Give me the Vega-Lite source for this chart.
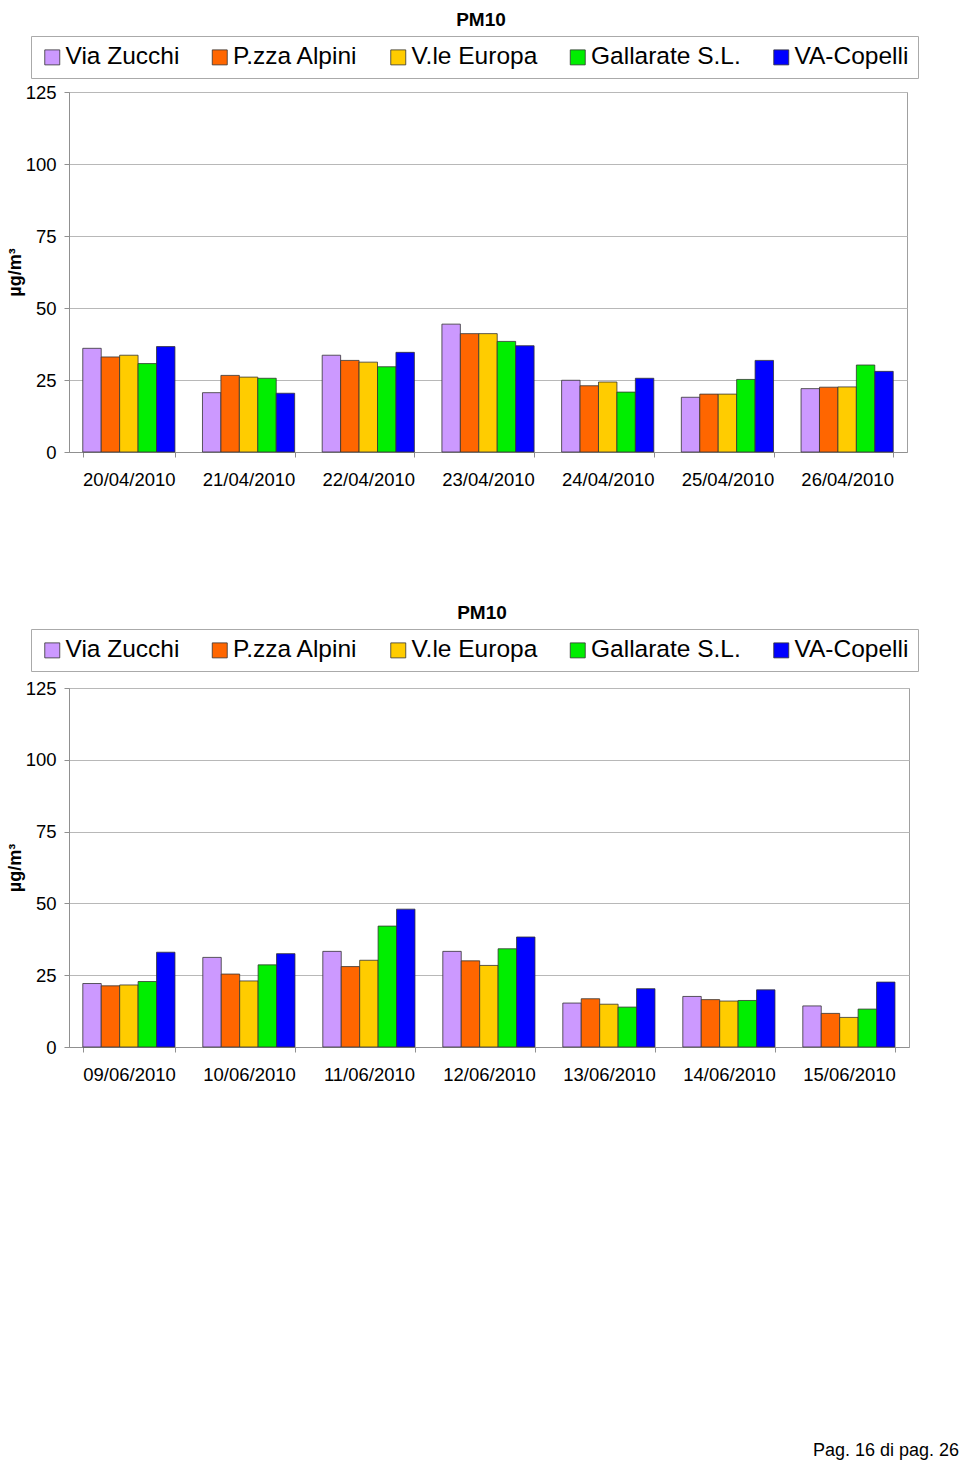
{
  "$schema": "https://vega.github.io/schema/vega-lite/v6.json",
  "padding": {"left": 5, "top": 10, "right": 2, "bottom": 5},
  "spacing": 114,
  "resolve": {"scale": {"color": "independent"}, "legend": {"color": "independent"}},
  "config": {
    "font": "Liberation Sans",
    "view": {"stroke": "#a0a0a0", "strokeWidth": 1},
    "title": {"fontSize": 19, "fontWeight": "bold", "color": "#000"},
    "axis": {"labelFont": "Liberation Sans", "labelColor": "#000", "domainColor": "#909090", "tickColor": "#909090", "gridColor": "#b8b8b8", "tickSize": 5}
  },
  "datasets": {
    "apr": [
      {"date": "20/04/2010", "station": "Via Zucchi", "value": 36},
      {"date": "20/04/2010", "station": "P.zza Alpini", "value": 33},
      {"date": "20/04/2010", "station": "V.le Europa", "value": 33.6},
      {"date": "20/04/2010", "station": "Gallarate S.L.", "value": 30.7},
      {"date": "20/04/2010", "station": "VA-Copelli", "value": 36.6},
      {"date": "21/04/2010", "station": "Via Zucchi", "value": 20.6},
      {"date": "21/04/2010", "station": "P.zza Alpini", "value": 26.6},
      {"date": "21/04/2010", "station": "V.le Europa", "value": 26},
      {"date": "21/04/2010", "station": "Gallarate S.L.", "value": 25.6},
      {"date": "21/04/2010", "station": "VA-Copelli", "value": 20.4},
      {"date": "22/04/2010", "station": "Via Zucchi", "value": 33.6},
      {"date": "22/04/2010", "station": "P.zza Alpini", "value": 31.8},
      {"date": "22/04/2010", "station": "V.le Europa", "value": 31.2},
      {"date": "22/04/2010", "station": "Gallarate S.L.", "value": 29.6},
      {"date": "22/04/2010", "station": "VA-Copelli", "value": 34.6},
      {"date": "23/04/2010", "station": "Via Zucchi", "value": 44.4},
      {"date": "23/04/2010", "station": "P.zza Alpini", "value": 41.1},
      {"date": "23/04/2010", "station": "V.le Europa", "value": 41.1},
      {"date": "23/04/2010", "station": "Gallarate S.L.", "value": 38.4},
      {"date": "23/04/2010", "station": "VA-Copelli", "value": 36.9},
      {"date": "24/04/2010", "station": "Via Zucchi", "value": 24.9},
      {"date": "24/04/2010", "station": "P.zza Alpini", "value": 23},
      {"date": "24/04/2010", "station": "V.le Europa", "value": 24.3},
      {"date": "24/04/2010", "station": "Gallarate S.L.", "value": 20.8},
      {"date": "24/04/2010", "station": "VA-Copelli", "value": 25.6},
      {"date": "25/04/2010", "station": "Via Zucchi", "value": 19},
      {"date": "25/04/2010", "station": "P.zza Alpini", "value": 20.1},
      {"date": "25/04/2010", "station": "V.le Europa", "value": 20.1},
      {"date": "25/04/2010", "station": "Gallarate S.L.", "value": 25.2},
      {"date": "25/04/2010", "station": "VA-Copelli", "value": 31.8},
      {"date": "26/04/2010", "station": "Via Zucchi", "value": 22},
      {"date": "26/04/2010", "station": "P.zza Alpini", "value": 22.5},
      {"date": "26/04/2010", "station": "V.le Europa", "value": 22.6},
      {"date": "26/04/2010", "station": "Gallarate S.L.", "value": 30.2},
      {"date": "26/04/2010", "station": "VA-Copelli", "value": 28}
    ],
    "jun": [
      {"date": "09/06/2010", "station": "Via Zucchi", "value": 22.1},
      {"date": "09/06/2010", "station": "P.zza Alpini", "value": 21.3},
      {"date": "09/06/2010", "station": "V.le Europa", "value": 21.6},
      {"date": "09/06/2010", "station": "Gallarate S.L.", "value": 22.8},
      {"date": "09/06/2010", "station": "VA-Copelli", "value": 33},
      {"date": "10/06/2010", "station": "Via Zucchi", "value": 31.2},
      {"date": "10/06/2010", "station": "P.zza Alpini", "value": 25.4},
      {"date": "10/06/2010", "station": "V.le Europa", "value": 23},
      {"date": "10/06/2010", "station": "Gallarate S.L.", "value": 28.6},
      {"date": "10/06/2010", "station": "VA-Copelli", "value": 32.5},
      {"date": "11/06/2010", "station": "Via Zucchi", "value": 33.3},
      {"date": "11/06/2010", "station": "P.zza Alpini", "value": 28},
      {"date": "11/06/2010", "station": "V.le Europa", "value": 30.2},
      {"date": "11/06/2010", "station": "Gallarate S.L.", "value": 42.1},
      {"date": "11/06/2010", "station": "VA-Copelli", "value": 48},
      {"date": "12/06/2010", "station": "Via Zucchi", "value": 33.3},
      {"date": "12/06/2010", "station": "P.zza Alpini", "value": 30},
      {"date": "12/06/2010", "station": "V.le Europa", "value": 28.4},
      {"date": "12/06/2010", "station": "Gallarate S.L.", "value": 34.2},
      {"date": "12/06/2010", "station": "VA-Copelli", "value": 38.3},
      {"date": "13/06/2010", "station": "Via Zucchi", "value": 15.3},
      {"date": "13/06/2010", "station": "P.zza Alpini", "value": 16.8},
      {"date": "13/06/2010", "station": "V.le Europa", "value": 14.9},
      {"date": "13/06/2010", "station": "Gallarate S.L.", "value": 13.9},
      {"date": "13/06/2010", "station": "VA-Copelli", "value": 20.3},
      {"date": "14/06/2010", "station": "Via Zucchi", "value": 17.6},
      {"date": "14/06/2010", "station": "P.zza Alpini", "value": 16.5},
      {"date": "14/06/2010", "station": "V.le Europa", "value": 16},
      {"date": "14/06/2010", "station": "Gallarate S.L.", "value": 16.2},
      {"date": "14/06/2010", "station": "VA-Copelli", "value": 19.9},
      {"date": "15/06/2010", "station": "Via Zucchi", "value": 14.3},
      {"date": "15/06/2010", "station": "P.zza Alpini", "value": 11.7},
      {"date": "15/06/2010", "station": "V.le Europa", "value": 10.3},
      {"date": "15/06/2010", "station": "Gallarate S.L.", "value": 13.2},
      {"date": "15/06/2010", "station": "VA-Copelli", "value": 22.6}
    ]
  },
  "title": {"text": "Pag. 16 di pag. 26", "orient": "bottom", "anchor": "end", "fontSize": 18, "fontWeight": "normal", "offset": 358, "dx": 40},
  "vconcat": [
    {
      "data": {"name": "apr"},
      "width": 838,
      "height": 360,
      "title": {"text": "PM10", "offset": 6, "dx": -7},
      "mark": {"type": "bar", "stroke": "#333", "strokeWidth": 0.8},
      "encoding": {
        "x": {"field": "date", "type": "nominal", "sort": null, "scale": {"paddingInner": 0.23, "paddingOuter": 0.115},
          "axis": {"title": null, "labelAngle": 0, "tickBand": "extent", "labelFontSize": 18.5, "labelPadding": 13}},
        "xOffset": {"field": "station", "type": "nominal", "sort": ["Via Zucchi", "P.zza Alpini", "V.le Europa", "Gallarate S.L.", "VA-Copelli"]},
        "y": {"field": "value", "type": "quantitative", "scale": {"domain": [0, 125], "nice": false},
          "axis": {"values": [0, 25, 50, 75, 100, 125], "title": "µg/m³", "titleFontSize": 18, "titleFontWeight": "bold", "titlePadding": 1, "labelFontSize": 18.5, "labelPadding": 8}},
        "color": {"field": "station", "type": "nominal",
          "scale": {"domain": ["Via Zucchi", "P.zza Alpini", "V.le Europa", "Gallarate S.L.", "VA-Copelli"], "range": ["#cc99ff", "#ff6600", "#ffcc00", "#00ee00", "#0000ff"]},
          "legend": {"title": null, "orient": "none", "legendX": -38, "legendY": -56, "direction": "horizontal", "columnPadding": 27.5, "symbolType": "square", "symbolSize": 225, "symbolStrokeColor": "#333", "symbolStrokeWidth": 0.8, "labelFontSize": 24.5, "labelOffset": 1, "labelLimit": 300, "padding": 9, "strokeColor": "#aaaaaa", "labelColor": "#000"}}
      }
    },
    {
      "data": {"name": "jun"},
      "width": 840,
      "height": 359,
      "title": {"text": "PM10", "offset": 6, "dx": -7},
      "mark": {"type": "bar", "stroke": "#333", "strokeWidth": 0.8},
      "encoding": {
        "x": {"field": "date", "type": "nominal", "sort": null, "scale": {"paddingInner": 0.23, "paddingOuter": 0.115},
          "axis": {"title": null, "labelAngle": 0, "tickBand": "extent", "labelFontSize": 18.5, "labelPadding": 13}},
        "xOffset": {"field": "station", "type": "nominal", "sort": ["Via Zucchi", "P.zza Alpini", "V.le Europa", "Gallarate S.L.", "VA-Copelli"]},
        "y": {"field": "value", "type": "quantitative", "scale": {"domain": [0, 125], "nice": false},
          "axis": {"values": [0, 25, 50, 75, 100, 125], "title": "µg/m³", "titleFontSize": 18, "titleFontWeight": "bold", "titlePadding": 1, "labelFontSize": 18.5, "labelPadding": 8}},
        "color": {"field": "station", "type": "nominal",
          "scale": {"domain": ["Via Zucchi", "P.zza Alpini", "V.le Europa", "Gallarate S.L.", "VA-Copelli"], "range": ["#cc99ff", "#ff6600", "#ffcc00", "#00ee00", "#0000ff"]},
          "legend": {"title": null, "orient": "none", "legendX": -38, "legendY": -59, "direction": "horizontal", "columnPadding": 27.5, "symbolType": "square", "symbolSize": 225, "symbolStrokeColor": "#333", "symbolStrokeWidth": 0.8, "labelFontSize": 24.5, "labelOffset": 1, "labelLimit": 300, "padding": 9, "strokeColor": "#aaaaaa", "labelColor": "#000"}}
      }
    }
  ]
}
